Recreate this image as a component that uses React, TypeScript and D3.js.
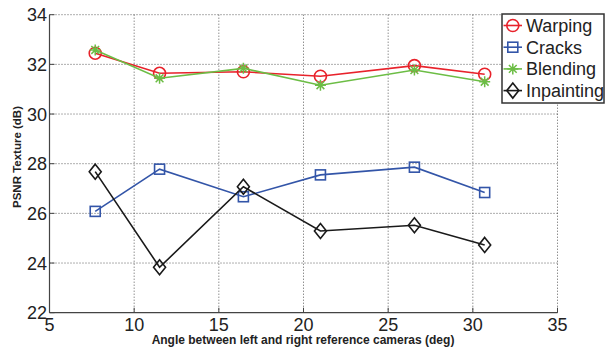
import React from 'react';
import * as d3 from 'd3';

const W = 605;
const H = 347;
const MARGIN = { top: 14.7, right: 47.5, bottom: 34.3, left: 49.5 };

// angles (deg)
const angles = [7.7, 11.5, 16.45, 21.0, 26.55, 30.7];
const warping = [32.45, 31.64, 31.7, 31.52, 31.95, 31.6];
const cracks = [26.08, 27.78, 26.67, 27.55, 27.86, 26.84];
const blending = [32.58, 31.44, 31.84, 31.16, 31.77, 31.3];
const inpainting = [27.68, 23.83, 27.07, 25.29, 25.52, 24.73];

const xTicks = [5, 10, 15, 20, 25, 30, 35];
const yTicks = [22, 24, 26, 28, 30, 32, 34];

const SERIES = [
  { name: 'Warping', values: warping, color: '#e8222b', marker: 'circle' },
  { name: 'Cracks', values: cracks, color: '#3355a8', marker: 'square' },
  { name: 'Blending', values: blending, color: '#6cbd45', marker: 'star' },
  { name: 'Inpainting', values: inpainting, color: '#1a1a1a', marker: 'diamond' },
];

const FONT = '"Liberation Sans", Arial, Helvetica, sans-serif';

const Marker = ({ type, x, y, color }: { type: string; x: number; y: number; color: string }) => {
  if (type === 'circle') {
    return <circle cx={x} cy={y} r={6} fill="none" stroke={color} strokeWidth={1.6} />;
  }
  if (type === 'square') {
    return <rect x={x - 5} y={y - 5} width={10} height={10} fill="none" stroke={color} strokeWidth={1.6} />;
  }
  if (type === 'diamond') {
    return (
      <path
        d={`M${x},${y - 7.5}L${x + 6},${y}L${x},${y + 7.5}L${x - 6},${y}Z`}
        fill="none"
        stroke={color}
        strokeWidth={1.6}
      />
    );
  }
  // asterisk
  const r = 5.5;
  const d = r * 0.707;
  return (
    <path
      d={`M${x - r},${y}H${x + r}M${x},${y - r}V${y + r}M${x - d},${y - d}L${x + d},${y + d}M${x - d},${y + d}L${x + d},${y - d}`}
      stroke={color}
      strokeWidth={1.5}
    />
  );
};

const Chart = () => {
  const x = d3.scaleLinear().domain([5, 35]).range([MARGIN.left, W - MARGIN.right]);
  const y = d3.scaleLinear().domain([22, 34]).range([H - MARGIN.bottom, MARGIN.top]);

  const line = d3
    .line<number>()
    .x((_, i) => x(angles[i]))
    .y((d) => y(d));

  const legendX = 502;
  const legendY = 14;

  return (
    <svg width={W} height={H} style={{ display: 'block', background: '#fff' }}>
      {/* grid */}
      {xTicks.slice(1).map((t) => (
        <line key={`gx${t}`} x1={x(t)} x2={x(t)} y1={y(22)} y2={y(34)} stroke="#333" strokeWidth={0.8} strokeDasharray="1,2" />
      ))}
      {yTicks.slice(1).map((t) => (
        <line key={`gy${t}`} x1={x(5)} x2={x(35)} y1={y(t)} y2={y(t)} stroke="#333" strokeWidth={0.8} strokeDasharray="1,2" />
      ))}

      {/* axes */}
      <line x1={x(5)} x2={x(35)} y1={y(22)} y2={y(22)} stroke="#444" strokeWidth={1.2} />
      <line x1={x(5)} x2={x(5)} y1={y(22)} y2={y(34)} stroke="#444" strokeWidth={1.2} />
      {xTicks.map((t) => (
        <g key={`xt${t}`}>
          <line x1={x(t)} x2={x(t)} y1={y(22)} y2={y(22) - 5} stroke="#444" strokeWidth={1} />
          <text x={x(t)} y={331} textAnchor="middle" fontSize={18} fontFamily={FONT} fill="#222">
            {t}
          </text>
        </g>
      ))}
      {yTicks.map((t) => (
        <g key={`yt${t}`}>
          <line x1={x(5)} x2={x(5) + 5} y1={y(t)} y2={y(t)} stroke="#444" strokeWidth={1} />
          <text x={47} y={y(t) + 6.5} textAnchor="end" fontSize={18} fontFamily={FONT} fill="#222">
            {t}
          </text>
        </g>
      ))}

      {/* axis titles */}
      <text x={303} y={343.5} textAnchor="middle" fontSize={12} fontWeight="bold" fontFamily={FONT} fill="#222">
        Angle between left and right reference cameras (deg)
      </text>
      <text
        transform={`translate(21,157) rotate(-90)`}
        textAnchor="middle"
        fontSize={11.5}
        fontWeight="bold"
        fontFamily={FONT}
        fill="#222"
      >
        PSNR Texture (dB)
      </text>

      {/* series */}
      {SERIES.map((s) => (
        <g key={s.name}>
          <path d={line(s.values) || ''} fill="none" stroke={s.color} strokeWidth={1.6} />
          {s.values.map((v, i) => (
            <Marker key={i} type={s.marker} x={x(angles[i])} y={y(v)} color={s.color} />
          ))}
        </g>
      ))}

      {/* legend */}
      <rect x={legendX} y={legendY} width={102} height={89} fill="#fff" stroke="#333" strokeWidth={1.5} />
      {SERIES.map((s, i) => {
        const cy = 25.5 + i * 21.7;
        return (
          <g key={`lg${s.name}`}>
            <line x1={503.5} x2={522} y1={cy} y2={cy} stroke={s.color} strokeWidth={1.6} />
            <Marker type={s.marker} x={512.8} y={cy} color={s.color} />
            <text x={526} y={cy + 6.5} fontSize={18} fontFamily={FONT} fill="#222">
              {s.name}
            </text>
          </g>
        );
      })}
    </svg>
  );
};

export default function App() {
  return (
    <div style={{ position: 'absolute', left: 0, top: 0 }}>
      <Chart />
    </div>
  );
}
